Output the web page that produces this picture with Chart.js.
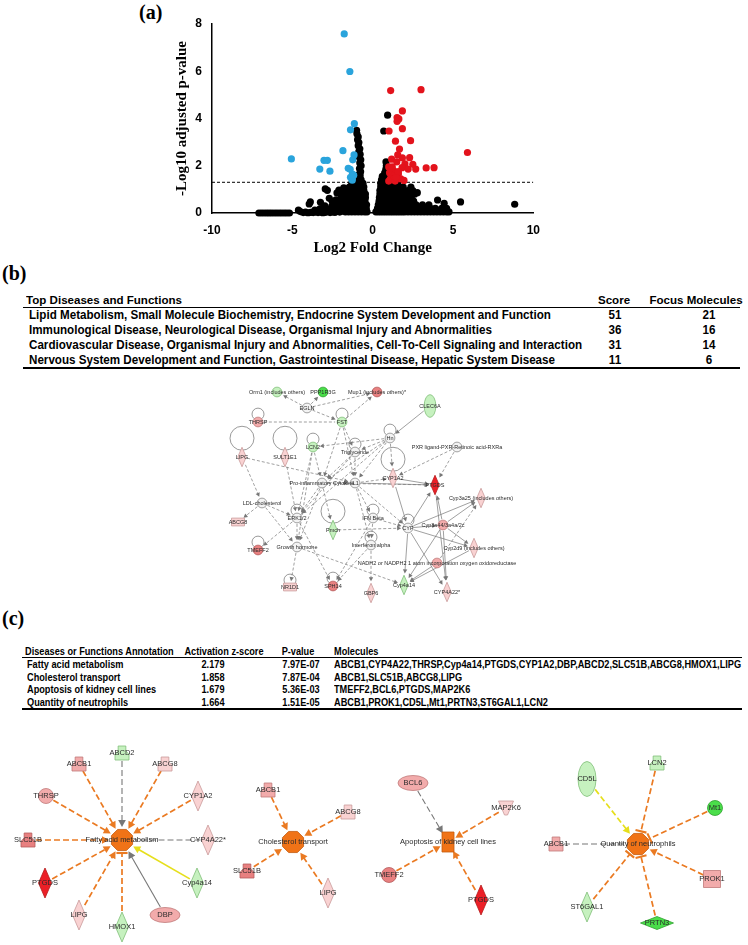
<!DOCTYPE html>
<html>
<head>
<meta charset="utf-8">
<script src="https://cdn.jsdelivr.net/npm/chart.js@4.4.0/dist/chart.umd.min.js"></script>
<style>
  body { margin: 0; background: #fff; width: 748px; height: 945px; position: relative; overflow: hidden; }
  .panel { position: absolute; font-family: "Liberation Serif", "Times New Roman", serif; font-weight: bold; font-size: 20px; color: #000; }
  canvas { position: absolute; }
  .cell { position: absolute; white-space: nowrap; color: #000; }
  .tb { font-family: "Liberation Sans", Arial, sans-serif; font-weight: bold; font-size: 12px; line-height: 14px; }
  .tbh { font-family: "Liberation Sans", Arial, sans-serif; font-weight: bold; font-size: 11.5px; line-height: 14px; }
  .tc { font-family: "Liberation Sans", Arial, sans-serif; font-weight: bold; font-size: 10.5px; line-height: 12px; }
  .hline { position: absolute; background: #000; }
</style>
</head>
<body>
<div class="panel" style="left:139px;top:1px">(a)</div>
<div class="panel" style="left:2px;top:262px">(b)</div>
<div class="panel" style="left:2px;top:607px">(c)</div>
<canvas id="volcano" width="400" height="262" style="left:150px;top:0"></canvas>
<canvas id="networkB" width="360" height="260" style="left:200px;top:375px"></canvas>
<canvas id="networkC" width="748" height="205" style="left:0;top:740px"></canvas>
<script>
// ---------- (a) volcano plot data ----------
const cutoff = 1.3;
const xTicks = [-10, -5, 0, 5, 10];
const yTicks = [0, 2, 4, 6, 8];

const bluePoints = [
  [-1.77, 7.58], [-1.42, 5.99], [-1.14, 3.78], [-1.38, 3.52], [-1.85, 2.64], [-1.16, 2.46],
  [-1.24, 2.25], [-5.06, 2.29], [-3.03, 2.23], [-2.82, 2.23], [-3.29, 1.86], [-2.66, 1.77],
  [-1.52, 1.89], [-1.4, 1.85], [-1.26, 1.65], [-1.38, 1.51], [-1.27, 1.39], [-1.18, 1.6]
];

const redPoints = [
  [1.12, 5.18], [3.01, 5.22], [1.85, 4.32], [1.52, 4.04], [1.63, 3.98], [1.52, 3.88],
  [1.02, 3.47], [1.85, 3.57], [1.42, 3.04], [2.36, 3.06], [1.67, 2.71], [5.9, 2.56],
  [1.56, 2.46], [1.85, 2.33], [2.3, 2.34], [1.18, 2.28], [1.5, 2.16], [2.01, 2.08],
  [2.5, 2.06], [1.83, 1.92], [2.21, 1.86], [2.68, 1.86], [3.33, 1.91], [3.82, 1.92],
  [1.0, 1.95], [1.15, 1.85], [1.3, 1.8], [1.05, 1.7], [1.2, 1.6], [1.35, 1.58],
  [1.6, 1.65], [1.1, 1.45], [1.28, 1.42], [1.75, 1.45], [1.95, 1.38], [1.0, 1.35],
  [1.4, 1.35], [1.6, 1.75], [1.22, 1.95], [1.45, 1.5]
];

const blackPoints = [
  // left tail along the axis
  [-7.08, 0], [-6.92, 0], [-6.76, 0], [-6.6, 0], [-6.45, 0], [-6.3, 0], [-6.14, 0], [-5.98, 0],
  [-5.82, 0], [-5.66, 0], [-5.5, 0], [-5.34, 0], [-5.18, 0],
  [-4.62, 0.12], [-4.5, 0.06], [-4.32, 0.02], [-4.18, 0.04], [-4.02, 0.01], [-3.86, 0.03],
  [-3.7, 0.02], [-3.55, 0.05], [-3.4, 0.02], [-3.25, 0.04], [-3.1, 0.01], [-2.95, 0.03],
  [-2.8, 0.06], [-2.65, 0.02], [-2.5, 0.05], [-2.35, 0.03], [-2.2, 0.07], [-2.05, 0.04], [-1.9, 0.08],
  [-3.6, 0.12], [-3.3, 0.16], [-3.05, 0.22], [-2.75, 0.15], [-2.55, 0.28], [-2.35, 0.18],
  [-2.15, 0.3], [-1.95, 0.22],
  // scattered left
  [-3.95, 0.38], [-3.88, 0.47], [-3.25, 0.45], [-2.98, 0.3], [-2.95, 1.02], [-2.82, 0.96],
  [-2.7, 0.62], [-2.52, 0.5], [-2.4, 0.38], [-2.22, 0.85], [-2.1, 0.97], [-2.28, 0.56],
  [-2.05, 0.45], [-1.95, 0.7], [-1.88, 0.38], [-1.85, 0.9], [-1.8, 1.06], [-1.78, 0.58],
  // left blob
  [-1.7, 0.05], [-1.5, 0.05], [-1.3, 0.05], [-1.1, 0.05], [-0.9, 0.05], [-0.7, 0.05], [-0.5, 0.05], [-0.35, 0.05],
  [-1.75, 0.2], [-1.55, 0.2], [-1.35, 0.2], [-1.15, 0.2], [-0.95, 0.2], [-0.75, 0.2], [-0.55, 0.2], [-0.4, 0.2],
  [-1.7, 0.35], [-1.5, 0.35], [-1.3, 0.35], [-1.1, 0.35], [-0.9, 0.35], [-0.7, 0.35], [-0.5, 0.35], [-0.38, 0.35],
  [-1.65, 0.5], [-1.45, 0.5], [-1.25, 0.5], [-1.05, 0.5], [-0.85, 0.5], [-0.65, 0.5], [-0.48, 0.5],
  [-1.6, 0.65], [-1.4, 0.65], [-1.2, 0.65], [-1.0, 0.65], [-0.8, 0.65], [-0.6, 0.65], [-0.45, 0.65],
  [-1.55, 0.8], [-1.35, 0.8], [-1.15, 0.8], [-0.95, 0.8], [-0.75, 0.8], [-0.55, 0.8], [-0.45, 0.8],
  [-1.5, 0.95], [-1.3, 0.95], [-1.1, 0.95], [-0.9, 0.95], [-0.7, 0.95], [-0.55, 0.95],
  [-1.45, 1.1], [-1.25, 1.1], [-1.05, 1.1], [-0.85, 1.1], [-0.65, 1.1], [-0.55, 1.1],
  [-1.3, 1.25], [-1.1, 1.25], [-0.9, 1.25], [-0.7, 1.25], [-0.6, 1.25],
  // left column
  [-0.72, 1.4], [-0.85, 1.45], [-0.78, 1.58], [-0.9, 1.62], [-0.75, 1.75], [-0.82, 1.88],
  [-0.72, 2.0], [-0.8, 2.12], [-0.74, 2.25], [-0.82, 2.35], [-0.78, 2.48], [-0.86, 2.6],
  [-0.8, 2.72], [-0.9, 2.85], [-0.86, 2.98], [-0.94, 3.1], [-0.9, 3.22], [-0.98, 3.35], [-1.0, 3.5],
  // right blob and tail
  [0.2, 0.05], [0.35, 0.05], [0.5, 0.05], [0.65, 0.05], [0.8, 0.05], [0.95, 0.05], [1.1, 0.05],
  [1.25, 0.05], [1.4, 0.05], [1.55, 0.05], [1.7, 0.05], [1.85, 0.05], [2.0, 0.05], [2.2, 0.05],
  [2.4, 0.05], [2.6, 0.05], [2.8, 0.05], [3.0, 0.05], [3.2, 0.05], [3.4, 0.05], [3.6, 0.05],
  [3.8, 0.05], [4.0, 0.05], [4.2, 0.05], [4.4, 0.05], [4.6, 0.05], [4.75, 0.05],
  [0.3, 0.2], [0.5, 0.2], [0.7, 0.2], [0.9, 0.2], [1.1, 0.2], [1.3, 0.2], [1.5, 0.2], [1.7, 0.2],
  [1.9, 0.2], [2.1, 0.2], [2.3, 0.2], [2.5, 0.2], [2.75, 0.2], [3.0, 0.2], [3.3, 0.2], [3.6, 0.2],
  [3.9, 0.2], [4.3, 0.2], [4.6, 0.2],
  [0.35, 0.35], [0.55, 0.35], [0.75, 0.35], [0.95, 0.35], [1.15, 0.35], [1.35, 0.35], [1.55, 0.35],
  [1.75, 0.35], [1.95, 0.35], [2.2, 0.35], [2.45, 0.35], [2.7, 0.35], [3.1, 0.35],
  [0.4, 0.5], [0.6, 0.5], [0.8, 0.5], [1.0, 0.5], [1.2, 0.5], [1.4, 0.5], [1.6, 0.5], [1.8, 0.5],
  [2.0, 0.5], [2.25, 0.5], [2.55, 0.5],
  [0.42, 0.65], [0.62, 0.65], [0.82, 0.65], [1.02, 0.65], [1.22, 0.65], [1.42, 0.65], [1.62, 0.65],
  [1.85, 0.65], [2.1, 0.65], [2.4, 0.65],
  [0.45, 0.8], [0.65, 0.8], [0.85, 0.8], [1.05, 0.8], [1.25, 0.8], [1.45, 0.8], [1.7, 0.8],
  [1.95, 0.8], [2.3, 0.8], [2.62, 0.8],
  [0.45, 0.95], [0.65, 0.95], [0.85, 0.95], [1.05, 0.95], [1.3, 0.95], [1.55, 0.95], [1.8, 0.95],
  [2.2, 0.95], [2.5, 0.95],
  [0.5, 1.1], [0.7, 1.1], [0.9, 1.1], [1.1, 1.1], [1.4, 1.1], [1.7, 1.1], [1.9, 1.1], [2.38, 1.1],
  [0.5, 1.25], [0.7, 1.25], [0.9, 1.25], [1.2, 1.25], [1.55, 1.25],
  [0.55, 1.4], [0.75, 1.4], [0.95, 1.4], [0.6, 1.55], [0.8, 1.55],
  [0.75, 1.7], [0.82, 1.85], [0.85, 2.0], [0.83, 2.16],
  // isolated
  [0.93, 4.14], [0.69, 3.47], [5.47, 0.47], [8.84, 0.37], [4.04, 0.55], [4.45, 0.41],
  [2.78, 0.86], [3.5, 0.35], [4.2, 0.1]
];

// ---------- (b) table + network ----------
const topFunctions = [
  "Lipid Metabolism, Small Molecule Biochemistry, Endocrine System Development and Function",
  "Immunological Disease, Neurological Disease, Organismal Injury and Abnormalities",
  "Cardiovascular Disease, Organismal Injury and Abnormalities, Cell-To-Cell Signaling and Interaction",
  "Nervous System Development and Function, Gastrointestinal Disease, Hepatic System Disease"
];
const scores = [51, 36, 31, 11];
const focusMolecules = [21, 16, 14, 6];

// nodes: [label, x, y, shape, colour]
const netBNodes = [
  ["Orm1 (includes others)", 277, 392, "circle", "lg"],
  ["PPP1R3G", 323, 392, "circle", "g"],
  ["EGLN", 307, 408, "circle", "w"],
  ["Mup1 (includes others)*", 377, 392, "circle", "rp"],
  ["CLEC6A", 430, 406, "ovalTall", "lg"],
  ["THRSP", 258, 422, "circle", "p"],
  ["FST", 342, 422, "circle", "lg"],
  ["Hn", 390, 438, "circle", "w"],
  ["LCN2", 313, 447, "circle", "lg"],
  ["Triglyceride", 355, 452, "circle", "w"],
  ["LIPG", 242, 457, "diamond", "lp"],
  ["SULT1E1", 285, 457, "diamond", "lp"],
  ["PXR ligand-PXR-Retinoic acid-RXRa", 457, 447, "circle", "w"],
  ["Pro-inflammatory Cytokine", 322, 483, "circle", "w"],
  ["IL1", 355, 483, "circle", "w"],
  ["CYP1A2", 393, 478, "diamond", "lp"],
  ["PTGDS", 435, 485, "diamond", "r"],
  ["Cyp3a25 (includes others)", 481, 498, "diamond", "lp"],
  ["LDL-cholesterol", 262, 503, "circle", "w"],
  ["ERK1/2", 297, 518, "circle", "w"],
  ["ABCG8", 238, 522, "rect", "lp"],
  ["Pmch", 333, 530, "diamond", "lg"],
  ["IFN Beta", 373, 518, "circle", "w"],
  ["CYP", 408, 528, "circle", "w"],
  ["Cyp3a44/3a4a/2c", 443, 525, "circle", "p"],
  ["TMEFF2", 258, 550, "circle", "rp"],
  ["Growth hormone", 297, 547, "circle", "w"],
  ["Interferon alpha", 371, 545, "circle", "w"],
  ["Cyp2d9 (includes others)", 474, 548, "diamond", "lp"],
  ["NADH2 or NADPH2 1 atom incorporation oxygen oxidoreductase", 437, 563, "circle", "p"],
  ["NR1D1", 290, 587, "rect", "lp"],
  ["SPH14", 333, 586, "circle", "rp"],
  ["GBP6", 371, 593, "diamond", "lp"],
  ["Cyp4a14", 404, 585, "diamond", "lg"],
  ["CYP4A22*", 447, 592, "diamond", "lp"]
];
// self loops: [node, radius]
const netBLoops = [[5, 6], [6, 6], [7, 6], [8, 6], [9, 6], [10, 12], [11, 12], [15, 12], [19, 6],
  [21, 12], [22, 6], [23, 6], [25, 6], [27, 6], [30, 6], [31, 6]];
// edges: [from, to, colour, dashed, head]
const netBEdges = [
  [2, 0, "gray", 1, "arrow"], [2, 1, "gray", 1, "arrow"], [2, 3, "gray", 1, "arrow"], [2, 6, "gray", 1, "arrow"],
  [5, 6, "gray", 1, "none"], [6, 3, "gray", 1, "arrow"], [4, 7, "gray", 0, "arrow"], [7, 9, "gray", 1, "arrow"],
  [7, 8, "gray", 1, "arrow"], [7, 13, "gray", 1, "arrow"], [7, 14, "gray", 1, "arrow"], [7, 15, "gray", 1, "arrow"],
  [7, 19, "gray", 1, "arrow"], [8, 13, "gray", 1, "arrow"], [8, 19, "gray", 1, "arrow"], [8, 26, "gray", 1, "arrow"],
  [6, 13, "gray", 1, "arrow"], [6, 14, "gray", 1, "arrow"], [6, 9, "gray", 1, "arrow"], [9, 13, "gray", 1, "arrow"],
  [9, 14, "gray", 1, "arrow"], [9, 19, "gray", 1, "arrow"], [10, 18, "gray", 1, "arrow"], [10, 14, "gray", 1, "arrow"],
  [11, 19, "gray", 1, "arrow"], [18, 19, "gray", 1, "arrow"], [18, 26, "gray", 1, "arrow"], [18, 20, "gray", 1, "arrow"],
  [12, 16, "gray", 1, "arrow"], [12, 15, "gray", 1, "arrow"], [13, 14, "gray", 1, "arrow"], [13, 19, "gray", 1, "arrow"],
  [14, 16, "gray", 0, "arrow"], [14, 15, "gray", 1, "arrow"], [14, 22, "gray", 1, "arrow"], [14, 27, "gray", 1, "arrow"],
  [13, 21, "gray", 1, "arrow"], [15, 23, "gray", 0, "arrow"], [15, 16, "gray", 0, "arrow"], [23, 16, "gray", 0, "arrow"],
  [23, 17, "gray", 0, "arrow"], [23, 28, "gray", 0, "arrow"], [23, 24, "gray", 0, "arrow"], [23, 33, "gray", 0, "arrow"],
  [23, 34, "gray", 0, "arrow"], [24, 16, "gray", 0, "arrow"], [24, 34, "gray", 0, "arrow"], [24, 33, "gray", 0, "arrow"],
  [24, 17, "gray", 0, "arrow"], [24, 28, "gray", 0, "arrow"], [29, 33, "gray", 0, "arrow"], [29, 17, "gray", 1, "arrow"],
  [22, 23, "gray", 1, "arrow"], [22, 27, "gray", 1, "arrow"], [21, 23, "gray", 1, "arrow"], [19, 26, "gray", 1, "arrow"],
  [19, 25, "gray", 1, "arrow"], [19, 31, "gray", 1, "arrow"], [26, 30, "gray", 1, "arrow"], [26, 33, "gray", 1, "arrow"],
  [27, 31, "gray", 1, "arrow"], [27, 32, "gray", 1, "arrow"], [22, 31, "gray", 1, "arrow"], [14, 23, "gray", 1, "arrow"],
  [16, 34, "gray", 0, "arrow"], [28, 33, "gray", 0, "arrow"], [13, 26, "gray", 1, "arrow"], [13, 16, "gray", 1, "arrow"]
];

// ---------- (c) table + networks ----------
const annotations = ["Fatty acid metabolism", "Cholesterol transport", "Apoptosis of kidney cell lines", "Quantity of neutrophils"];
const zScores = ["2.179", "1.858", "1.679", "1.664"];
const pValues = ["7.97E-07", "7.87E-04", "5.36E-03", "1.51E-05"];
const molecules = [
  "ABCB1,CYP4A22,THRSP,Cyp4a14,PTGDS,CYP1A2,DBP,ABCD2,SLC51B,ABCG8,HMOX1,LIPG",
  "ABCB1,SLC51B,ABCG8,LIPG",
  "TMEFF2,BCL6,PTGDS,MAP2K6",
  "ABCB1,PROK1,CD5L,Mt1,PRTN3,ST6GAL1,LCN2"
];

const netCNodes = [
  ["Fatty acid metabolism", 122, 840, "hex", "o"],
  ["ABCD2", 122, 753, "trap", "lg"],
  ["ABCB1", 79, 764, "trap", "p"],
  ["ABCG8", 165, 764, "trap", "lp"],
  ["THRSP", 46, 796, "circle", "p"],
  ["CYP1A2", 198, 796, "diamond", "lp"],
  ["SLC51B", 28, 840, "trap", "rp"],
  ["CYP4A22*", 208, 840, "diamond", "lp"],
  ["PTGDS", 45, 883, "diamond", "r"],
  ["Cyp4a14", 197, 883, "diamond", "lg"],
  ["LIPG", 79, 915, "diamond", "lp"],
  ["HMOX1", 122, 927, "diamond", "lg"],
  ["DBP", 165, 915, "ovalWide", "p"],
  ["Cholesterol transport", 293, 842, "hex", "o"],
  ["ABCB1", 268, 790, "trap", "p"],
  ["ABCG8", 348, 812, "trap", "lp"],
  ["SLC51B", 247, 871, "trap", "rp"],
  ["LIPG", 328, 893, "diamond", "lp"],
  ["Apoptosis of kidney cell lines", 448, 842, "fnbox", "o"],
  ["BCL6", 413, 783, "ovalWide", "p"],
  ["MAP2K6", 506, 808, "invtrap", "lp"],
  ["TMEFF2", 389, 875, "circle", "rp"],
  ["PTGDS", 481, 900, "diamond", "r"],
  ["Quantity of neutrophils", 638, 844, "hex", "o"],
  ["CD5L", 587, 779, "ovalTall", "lg"],
  ["LCN2", 657, 763, "trap", "lg"],
  ["Mt1", 715, 808, "circle", "g"],
  ["ABCB1", 556, 844, "trap", "p"],
  ["PROK1", 712, 879, "square", "p"],
  ["ST6GAL1", 587, 907, "diamond", "lg"],
  ["PRTN3", 657, 923, "diamondWide", "g"]
];
const netCEdges = [
  [1, 0, "gray", 1, "arrow"], [2, 0, "orange", 1, "arrow"], [3, 0, "orange", 1, "arrow"], [4, 0, "orange", 1, "arrow"],
  [5, 0, "orange", 1, "arrow"], [6, 0, "orange", 1, "arrow"], [7, 0, "gray", 1, "none"], [8, 0, "orange", 1, "arrow"],
  [9, 0, "yellow", 0, "arrow"], [10, 0, "orange", 1, "arrow"], [11, 0, "orange", 1, "bar"], [12, 0, "gray", 0, "arrow"],
  [14, 13, "orange", 1, "arrow"], [15, 13, "orange", 1, "arrow"], [16, 13, "orange", 1, "arrow"], [17, 13, "orange", 1, "arrow"],
  [19, 18, "gray", 1, "arrow"], [20, 18, "orange", 1, "arrow"], [21, 18, "orange", 1, "arrow"], [22, 18, "orange", 1, "arrow"],
  [24, 23, "yellow", 1, "arrow"], [25, 23, "orange", 1, "bar"], [26, 23, "orange", 1, "bar"], [27, 23, "gray", 1, "none"],
  [28, 23, "orange", 1, "arrow"], [29, 23, "orange", 1, "bar"], [30, 23, "orange", 1, "bar"]
];

// ---------- tables ----------
function addCell(cls, text, left, centerY, lineH, align) {
  const d = document.createElement("div");
  d.className = "cell " + cls;
  d.textContent = text;
  d.style.top = (centerY - lineH / 2) + "px";
  if (align === "center") {
    d.style.left = (left - 100) + "px";
    d.style.width = "200px";
    d.style.textAlign = "center";
    d.style.transformOrigin = "center center";
  } else {
    d.style.left = left + "px";
    d.style.transformOrigin = "left center";
  }
  document.body.appendChild(d);
  return d;
}
function addLine(left, top, width, height) {
  const d = document.createElement("div");
  d.className = "hline";
  Object.assign(d.style, { left: left + "px", top: top + "px", width: width + "px", height: height + "px" });
  document.body.appendChild(d);
}
// the source tables use a condensed face; squeeze cells so a reference line gets its measured width
function squeezeTo(cells, ref, target) {
  const f = target / ref.getBoundingClientRect().width;
  cells.forEach(c => { c.style.transform = "scaleX(" + f.toFixed(3) + ")"; });
}

const tbCells = [];
const tbHead = addCell("tbh", "Top Diseases and Functions", 26, 300, 14);
tbCells.push(tbHead);
tbCells.push(addCell("tbh", "Score", 614, 300, 14, "center"));
tbCells.push(addCell("tbh", "Focus Molecules", 696, 300, 14, "center"));
addLine(23, 307, 717, 1);
const tbRows = [];
topFunctions.forEach((t, i) => {
  const cy = 315 + i * 15;
  tbRows.push(addCell("tb", t, 29, cy, 14));
  tbRows.push(addCell("tb", String(scores[i]), 615, cy, 14, "center"));
  tbRows.push(addCell("tb", String(focusMolecules[i]), 709, cy, 14, "center"));
});
addLine(23, 367, 717, 2);
squeezeTo(tbRows, tbRows[6], 553);   // "Cardiovascular Disease ..." line: x 29 -> 582
squeezeTo(tbCells, tbHead, 156);

const tcCells = [];
tcCells.push(addCell("tc", "Diseases or Functions Annotation", 25, 651, 12));
tcCells.push(addCell("tc", "Activation z-score", 224, 651, 12, "center"));
tcCells.push(addCell("tc", "P-value", 298, 651, 12, "center"));
tcCells.push(addCell("tc", "Molecules", 334, 651, 12));
addLine(22, 657, 720, 1);
let firstMolecules = null;
annotations.forEach((t, i) => {
  const cy = 664 + i * 12.5;
  tcCells.push(addCell("tc", t, 27, cy, 12));
  tcCells.push(addCell("tc", zScores[i], 213, cy, 12, "center"));
  tcCells.push(addCell("tc", pValues[i], 301, cy, 12, "center"));
  const m = addCell("tc", molecules[i], 334, cy, 12);
  tcCells.push(m);
  if (i === 0) firstMolecules = m;
});
addLine(22, 708, 720, 1.5);
squeezeTo(tcCells, firstMolecules, 407);

// ---------- volcano chart ----------
const toXY = pts => pts.map(p => ({ x: p[0], y: p[1] }));

new Chart(document.getElementById("volcano"), {
  type: "scatter",
  data: {
    datasets: [
      { label: "Up", data: toXY(redPoints), backgroundColor: "#e3131c", borderWidth: 0, pointRadius: 3.6, order: 1, clip: false },
      { label: "Down", data: toXY(bluePoints), backgroundColor: "#2aa4dc", borderWidth: 0, pointRadius: 3.6, order: 1, clip: false },
      { label: "NS", data: toXY(blackPoints), backgroundColor: "#000", borderWidth: 0, pointRadius: 3.6, order: 2, clip: false },
      {
        type: "line", label: "cutoff",
        data: [{ x: xTicks[0], y: cutoff }, { x: xTicks[xTicks.length - 1], y: cutoff }],
        borderColor: "#000", borderWidth: 1, borderDash: [3, 2], pointRadius: 0, order: 3
      }
    ]
  },
  options: {
    responsive: false,
    animation: false,
    layout: { padding: { left: 0, right: 11, top: 24, bottom: 0 } },
    plugins: { legend: { display: false }, tooltip: { enabled: false } },
    scales: {
      x: {
        type: "linear", min: xTicks[0], max: xTicks[xTicks.length - 1],
        grid: { display: false, drawTicks: false },
        border: { display: true, color: "#000", width: 1.5 },
        ticks: { stepSize: 5, padding: 10, color: "#000", font: { family: "Liberation Sans", weight: "bold", size: 12 } },
        title: { display: true, text: "Log2 Fold Change", color: "#000", padding: { top: 0, bottom: 5 },
          font: { family: "Liberation Serif", weight: "bold", size: 15 } },
        afterFit: s => { s.height = 49; }
      },
      y: {
        type: "linear", min: yTicks[0], max: yTicks[yTicks.length - 1],
        grid: { display: false, drawTicks: false },
        border: { display: true, color: "#000", width: 1.5 },
        ticks: { stepSize: 2, padding: 10, color: "#000", font: { family: "Liberation Sans", weight: "bold", size: 12 } },
        title: { display: true, text: "-Log10 adjusted p-value", color: "#000", padding: { top: 23, bottom: 0 },
          font: { family: "Liberation Serif", weight: "bold", size: 15 } },
        afterFit: s => { s.width = 62; }
      }
    }
  }
});

// ---------- network drawing ----------
const FILL = { lp: "#f9d2d2", p: "#f2abab", rp: "#e88080", r: "#ec1f27", lg: "#c6f1bf", g: "#4ade4a", w: "#f3f3f3", o: "#f07317" };
const STROKE = { lp: "#c99a9a", p: "#c07a7a", rp: "#b55a5a", r: "#b51a1a", lg: "#80bf78", g: "#2e9f2e", w: "#8c8c8c", o: "#c45a0e" };
const EDGE = { gray: "#777", orange: "#ea7a22", yellow: "#e6df1c" };
const SIZE = { hex: [22, 22], trap: [14, 14], circle: [15, 15], diamond: [13, 30], diamondWide: [33, 13],
  ovalWide: [30, 15], ovalTall: [18, 35], square: [17, 17], rect: [20, 12], invtrap: [15, 14], fnbox: [12, 20] };

function nodePath(ctx, shape, x, y, w, h) {
  const hw = w / 2, hh = h / 2;
  ctx.beginPath();
  if (shape === "circle" || shape.startsWith("oval")) {
    ctx.ellipse(x, y, hw, hh, 0, 0, Math.PI * 2);
  } else if (shape.startsWith("diamond")) {
    ctx.moveTo(x, y - hh); ctx.lineTo(x + hw, y); ctx.lineTo(x, y + hh); ctx.lineTo(x - hw, y); ctx.closePath();
  } else if (shape === "trap") {
    ctx.moveTo(x - hw * 0.55, y - hh); ctx.lineTo(x + hw * 0.55, y - hh); ctx.lineTo(x + hw * 0.55, y - hh * 0.3);
    ctx.lineTo(x + hw, y + hh * 0.2); ctx.lineTo(x + hw, y + hh); ctx.lineTo(x - hw, y + hh);
    ctx.lineTo(x - hw, y + hh * 0.2); ctx.lineTo(x - hw * 0.55, y - hh * 0.3); ctx.closePath();
  } else if (shape === "invtrap") {
    ctx.moveTo(x - hw, y - hh); ctx.lineTo(x + hw, y - hh); ctx.lineTo(x + hw * 0.2, y + hh); ctx.lineTo(x - hw * 0.2, y + hh); ctx.closePath();
  } else if (shape === "hex") {
    for (let i = 0; i < 8; i++) {
      const a = Math.PI / 8 + i * Math.PI / 4;
      const px = x + Math.cos(a) * hw * 1.04, py = y + Math.sin(a) * hh * 1.04;
      i ? ctx.lineTo(px, py) : ctx.moveTo(px, py);
    }
    ctx.closePath();
  } else {
    ctx.rect(x - hw, y - hh, w, h);
  }
}

function reach(shape, k, dx, dy) {
  const [w, h] = SIZE[shape];
  const hw = w * k / 2, hh = h * k / 2;
  const len = Math.hypot(dx, dy) || 1;
  const c = dx / len, s = dy / len;
  return (hw * hh) / Math.sqrt((hh * c) ** 2 + (hw * s) ** 2);
}

function makeNetworkPlugin(nodes, edges, loops, st) {
  return {
    id: "network",
    afterDatasetsDraw(chart) {
      const { ctx, scales: { x, y } } = chart;
      const pos = nodes.map(n => [x.getPixelForValue(n[1]), y.getPixelForValue(n[2])]);
      const k = st.k;
      ctx.save();
      // self loops
      loops.forEach(([i, r]) => {
        const [px, py] = pos[i];
        const top = SIZE[nodes[i][3]][1] * k / 2;
        ctx.beginPath();
        ctx.arc(px, py - top - r + 3, r, 0, Math.PI * 2);
        ctx.strokeStyle = "#6e6e6e"; ctx.lineWidth = 0.7; ctx.setLineDash([]);
        ctx.stroke();
      });
      // edges
      edges.forEach(([a, b, col, dashed, head]) => {
        const [x1, y1] = pos[a], [x2, y2] = pos[b];
        const dx = x2 - x1, dy = y2 - y1, len = Math.hypot(dx, dy);
        const ux = dx / len, uy = dy / len;
        const r1 = reach(nodes[a][3], k, dx, dy) + 1, r2 = reach(nodes[b][3], k, dx, dy) + 2;
        const sx = x1 + ux * r1, sy = y1 + uy * r1, ex = x2 - ux * r2, ey = y2 - uy * r2;
        const lw = col === "gray" ? st.grayW : st.edgeW;
        const back = head === "arrow" ? st.head * 0.6 : 0;
        ctx.strokeStyle = EDGE[col]; ctx.fillStyle = EDGE[col]; ctx.lineWidth = lw;
        ctx.setLineDash(dashed ? st.dash : []);
        ctx.beginPath(); ctx.moveTo(sx, sy); ctx.lineTo(ex - ux * back, ey - uy * back); ctx.stroke();
        ctx.setLineDash([]);
        if (head === "arrow") {
          const hl = st.head, hw = st.head * 0.55;
          ctx.beginPath();
          ctx.moveTo(ex, ey);
          ctx.lineTo(ex - ux * hl - uy * hw, ey - uy * hl + ux * hw);
          ctx.lineTo(ex - ux * hl + uy * hw, ey - uy * hl - ux * hw);
          ctx.closePath(); ctx.fill();
        } else if (head === "bar") {
          const bw = st.head * 0.8;
          ctx.lineWidth = lw + 0.4;
          ctx.beginPath();
          ctx.moveTo(ex - uy * bw, ey + ux * bw); ctx.lineTo(ex + uy * bw, ey - ux * bw); ctx.stroke();
        }
      });
      // nodes
      nodes.forEach((n, i) => {
        const [w, h] = SIZE[n[3]];
        nodePath(ctx, n[3], pos[i][0], pos[i][1], w * k, h * k);
        ctx.fillStyle = FILL[n[4]]; ctx.fill();
        ctx.strokeStyle = STROKE[n[4]]; ctx.lineWidth = 0.8; ctx.setLineDash([]); ctx.stroke();
      });
      // labels
      ctx.font = st.font;
      ctx.fillStyle = "#2b2b2b";
      ctx.textAlign = "center"; ctx.textBaseline = "middle";
      nodes.forEach((n, i) => ctx.fillText(n[0], pos[i][0], pos[i][1]));
      ctx.restore();
    }
  };
}

function networkChart(id, nodes, edges, loops, range, st) {
  new Chart(document.getElementById(id), {
    type: "scatter",
    data: { datasets: [{ data: nodes.map(n => ({ x: n[1], y: n[2] })), pointRadius: 0 }] },
    options: {
      responsive: false, animation: false,
      layout: { padding: 0 },
      plugins: { legend: { display: false }, tooltip: { enabled: false } },
      scales: {
        x: { type: "linear", display: false, min: range[0], max: range[1] },
        y: { type: "linear", display: false, min: range[2], max: range[3], reverse: true }
      }
    },
    plugins: [makeNetworkPlugin(nodes, edges, loops, st)]
  });
}

networkChart("networkB", netBNodes, netBEdges, netBLoops, [200, 560, 375, 635],
  { k: 0.65, edgeW: 0.7, grayW: 0.7, dash: [3, 2], head: 4, font: '5.5px "Liberation Sans"' });
networkChart("networkC", netCNodes, netCEdges, [], [0, 748, 740, 945],
  { k: 1, edgeW: 1.7, grayW: 1.1, dash: [6, 3], head: 7, font: '7.5px "Liberation Sans"' });
</script>
</body>
</html>
